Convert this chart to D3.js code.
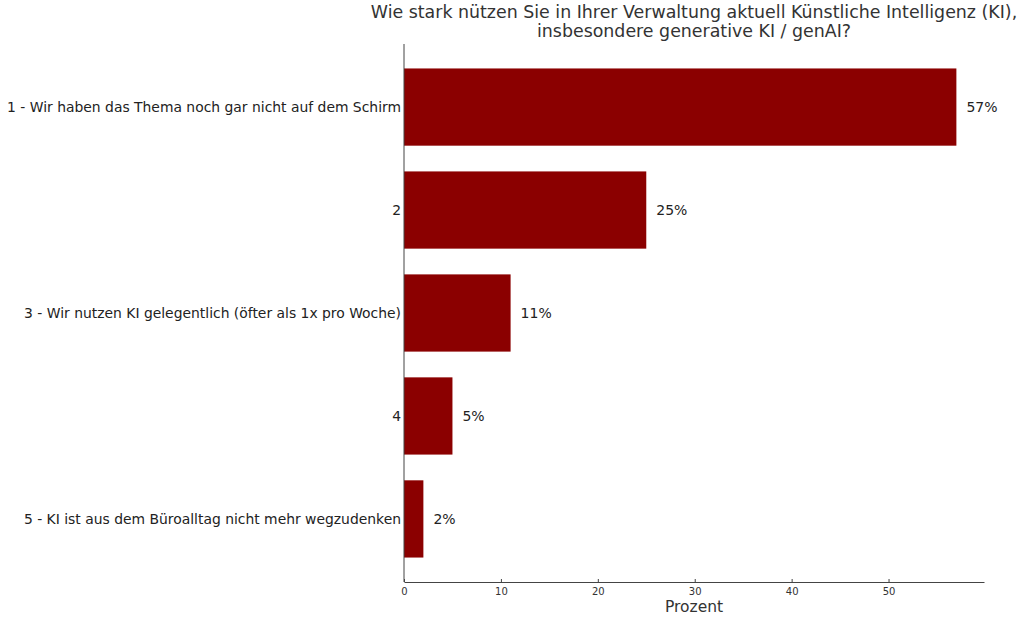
<!DOCTYPE html>
<html>
<head>
<meta charset="utf-8">
<script src="https://cdn.jsdelivr.net/npm/d3@7"></script>
<style>
  body { margin: 0; background: #fff; }
  svg { font-family: "DejaVu Sans", sans-serif; }
</style>
</head>
<body>
<div id="chart"></div>
<script>
// data
const categories = [
  '1 - Wir haben das Thema noch gar nicht auf dem Schirm',
  '2',
  '3 - Wir nutzen KI gelegentlich (öfter als 1x pro Woche)',
  '4',
  '5 - KI ist aus dem Büroalltag nicht mehr wegzudenken'
];
const values = [57, 25, 11, 5, 2];
const xTicks = [0, 10, 20, 30, 40, 50];
const titleLines = [
  'Wie stark nützen Sie in Ihrer Verwaltung aktuell Künstliche Intelligenz (KI),',
  'insbesondere generative KI / genAI?'
];
const xLabel = 'Prozent';

const W = 1024, H = 621;
const margin = {top: 44, right: 40, bottom: 39, left: 404};
const width = W - margin.left - margin.right,
    height = H - margin.top - margin.bottom;

const svg = d3.select('#chart')
  .append('svg')
    .attr('width', W)
    .attr('height', H)
  .append('g')
    .attr('transform', 'translate(' + margin.left + ',' + margin.top + ')');

// matplotlib-like 5% padding
const x = d3.scaleLinear()
    .domain([0, d3.max(values) * 1.05])
    .range([0, width]);

const barH = 0.75;
const y = d3.scaleLinear()
    .domain([-barH / 2 - 0.05 * (4 + barH), 4 + barH / 2 + 0.05 * (4 + barH)])
    .range([0, height]);

svg.selectAll('.bar')
  .data(values)
  .enter().append('rect')
    .attr('class', 'bar')
    .attr('x', x(0))
    .attr('y', (d, i) => y(i - barH / 2))
    .attr('width', d => x(d) - x(0))
    .attr('height', y(barH) - y(0))
    .attr('fill', '#8b0000');

svg.selectAll('.val')
  .data(values)
  .enter().append('text')
    .attr('class', 'val')
    .attr('x', d => x(d) + 10)
    .attr('y', (d, i) => y(i))
    .attr('dy', '0.35em')
    .attr('font-size', 14)
    .attr('fill', '#222')
    .text(d => d + '%');

// y category labels
svg.selectAll('.cat')
  .data(categories)
  .enter().append('text')
    .attr('class', 'cat')
    .attr('x', -3)
    .attr('y', (d, i) => y(i))
    .attr('dy', '0.35em')
    .attr('text-anchor', 'end')
    .attr('font-size', 13.9)
    .attr('fill', '#222')
    .text(d => d);

// spines
svg.append('line')
    .attr('x1', 0).attr('x2', 0)
    .attr('y1', 0).attr('y2', height)
    .attr('stroke', '#444').attr('stroke-width', 1);

const xAxis = svg.append('g')
    .attr('transform', 'translate(0,' + height + ')')
    .call(d3.axisBottom(x).tickValues(xTicks).tickSizeInner(-3).tickSizeOuter(0).tickPadding(6));
xAxis.select('.domain').attr('stroke', '#444');
xAxis.selectAll('.tick line').attr('stroke', '#444');
xAxis.selectAll('.tick text')
    .attr('font-family', '"DejaVu Sans", sans-serif')
    .attr('font-size', 10)
    .attr('fill', '#333');

svg.append('text')
    .attr('x', width / 2)
    .attr('y', height + 30)
    .attr('text-anchor', 'middle')
    .attr('font-size', 15.5)
    .attr('fill', '#333')
    .text(xLabel);

svg.selectAll('.title')
  .data(titleLines)
  .enter().append('text')
    .attr('class', 'title')
    .attr('x', width / 2)
    .attr('y', (d, i) => -26 + i * 19)
    .attr('text-anchor', 'middle')
    .attr('font-size', 17.4)
    .attr('fill', '#333')
    .text(d => d);
</script>
</body>
</html>
